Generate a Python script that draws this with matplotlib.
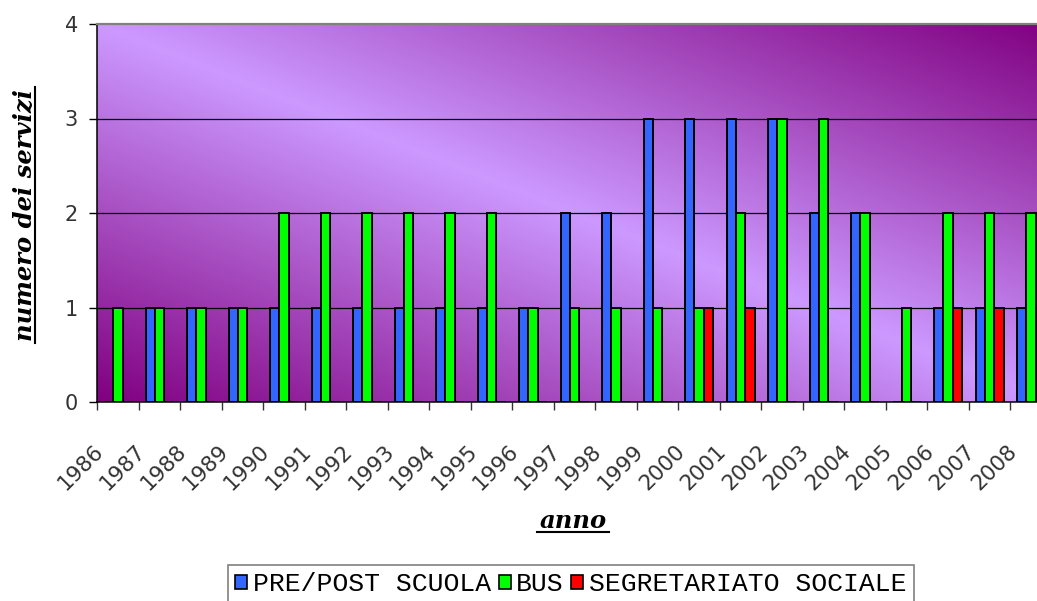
import numpy as np
import matplotlib.pyplot as plt
from matplotlib.patches import Patch
from matplotlib.lines import Line2D
from matplotlib.colors import LinearSegmentedColormap

anni = ['1986', '1987', '1988', '1989', '1990', '1991', '1992', '1993',
        '1994', '1995', '1996', '1997', '1998', '1999', '2000', '2001',
        '2002', '2003', '2004', '2005', '2006', '2007', '2008']
pre_post_scuola = [0, 1, 1, 1, 1, 1, 1, 1, 1, 1, 1, 2, 2, 3, 3, 3, 3, 2, 2, 0, 1, 1, 1]
bus = [1, 1, 1, 1, 2, 2, 2, 2, 2, 2, 1, 1, 1, 1, 1, 2, 3, 3, 2, 1, 2, 2, 2]
segretariato = [0, 0, 0, 0, 0, 0, 0, 0, 0, 0, 0, 0, 0, 0, 1, 1, 0, 0, 0, 0, 1, 1, 1]
serie = ['PRE/POST SCUOLA', 'BUS', 'SEGRETARIATO SOCIALE']
colori = ['#3366FF', '#00FF00', '#FF0000']

W, H = 1037, 601
fig = plt.figure(figsize=(W / 100, H / 100), dpi=100)
ax = fig.add_axes([97.3 / W, (H - 402) / H, 954.5 / W, 378 / H])

# sfondo sfumato diagonale (chiaro in alto a sinistra, scuro negli altri angoli)
u = np.linspace(0, 1, 400)
v = np.linspace(0, 1, 300)
U, V = np.meshgrid(u, v)
t = np.clip(np.abs(V - U), 0, 1)
cmap = LinearSegmentedColormap.from_list('viola', ['#CC99FF', '#800080'])
ax.imshow(t, cmap=cmap, vmin=0, vmax=1, extent=(0, 1, 0, 1), origin='upper',
          transform=ax.transAxes, aspect='auto', zorder=0, interpolation='bilinear')

x = np.arange(len(anni))
w = 0.225
for k, (dati, col) in enumerate(zip([pre_post_scuola, bus, segretariato], colori)):
    ax.bar(x + (k - 1) * w, dati, width=w, color=col, edgecolor='black',
           linewidth=1.4, zorder=3)

for yv in [1, 2, 3]:
    ax.axhline(yv, color='black', linewidth=0.9, zorder=1)

ax.set_xlim(-0.5, len(anni) - 0.5)
ax.set_ylim(0, 4)
ax.set_yticks([0, 1, 2, 3, 4])
ax.set_xticks(x - 0.5)
ax.set_xticklabels([])
ax.tick_params(axis='y', direction='out', length=6, width=1, pad=8,
               labelsize=15, labelcolor='#333333')
ax.tick_params(axis='x', direction='out', length=6, width=1, color='#333333')
ax.spines['top'].set_color('#808080')
ax.spines['top'].set_linewidth(1.6)
ax.spines['right'].set_visible(False)
ax.spines['left'].set_linewidth(1.1)
ax.spines['bottom'].set_linewidth(1.1)

for i, a in enumerate(anni):
    ax.annotate(a, xy=(i - 0.42, 0), xycoords=('data', 'axes fraction'),
                xytext=(0, -46), textcoords='offset pixels',
                rotation=45, rotation_mode='anchor', ha='right', va='center',
                fontsize=15.5, color='#333333')

fx = fig.text(573 / W, 1 - 528 / H, 'anno', ha='center', va='baseline',
              fontsize=17.5, fontweight='bold', fontstyle='italic',
              family='DejaVu Serif')
fy = fig.text(25 / W, 1 - 215 / H, 'numero dei servizi', ha='center', va='center',
              rotation=90, fontsize=17.5, fontweight='bold', fontstyle='italic',
              family='DejaVu Serif')

handles = [Patch(facecolor=c, edgecolor='black', linewidth=1.2) for c in colori]
leg = fig.legend(handles, serie, loc='upper center', ncol=3,
                 bbox_to_anchor=(571 / W, 1 - 565 / H), borderaxespad=0,
                 prop={'family': 'Liberation Mono', 'size': 19},
                 handlelength=0.45, handleheight=0.45, handletextpad=0.22,
                 columnspacing=0.28, borderpad=0.28, fancybox=False,
                 framealpha=1, edgecolor='#808080')
leg.get_frame().set_linewidth(1.2)

# sottolineature dei titoli
fig.canvas.draw()
r = fig.canvas.get_renderer()
bx = fx.get_window_extent(r)
fig.add_artist(Line2D([bx.x0 - 2, bx.x1 + 2], [H - 532, H - 532],
                      transform=None, color='black', linewidth=1.5))
by = fy.get_window_extent(r)
fig.add_artist(Line2D([35, 35], [by.y0 - 2, by.y1 + 2],
                      transform=None, color='black', linewidth=1.5))

fig.savefig('out.png', dpi=100)
